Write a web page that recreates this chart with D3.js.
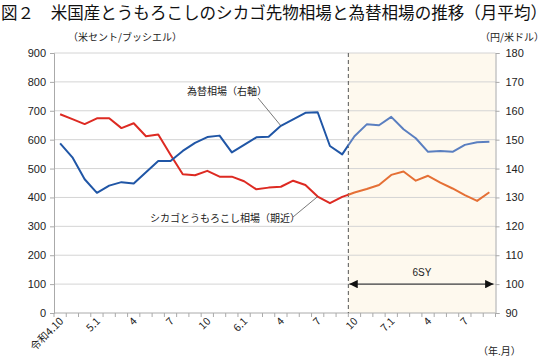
<!DOCTYPE html>
<html><head><meta charset="utf-8">
<script src="https://cdn.jsdelivr.net/npm/d3@7"></script>
<style>
html,body{margin:0;padding:0;background:#fff;}
svg{display:block;}
.jp{font-family:"Noto Sans CJK JP","Noto Sans",sans-serif;}
.num{font-family:"Liberation Sans",Arial,sans-serif;}
</style>
</head><body>
<svg id="c" width="550" height="360"></svg>
<script>
// ---- data ----
const monthCount = 36; // 令和4年10月 ～ 令和7年9月
const tickLabels = ["令和4.10","5.1","4","7","10","6.1","4","7","10","7.1","4","7"];
const tickLabelIdx = [0,3,6,9,12,15,18,21,24,27,30,33];
const leftTicks = [0,100,200,300,400,500,600,700,800,900];
const rightTicks = [90,100,110,120,130,140,150,160,170,180];
const corn = [688,671,654,674,674,640,657,612,618,548,480,477,492,472,472,456,428,434,437,458,443,403,380,402,417,429,443,478,490,458,475,451,431,408,388,418];
const yen = [148.7,143.9,136.3,131.6,134.1,135.3,134.8,138.7,142.6,142.6,146.1,148.9,150.9,151.4,145.6,148.2,150.8,151.0,154.8,157.0,159.3,159.5,147.8,144.9,151.2,155.3,155.0,157.9,153.6,150.5,145.8,146.1,145.8,148.2,149.1,149.3];
const splitIdx = 24; // 6SY start (令和6年10月)

// ---- layout ----
const L = 54, R = 495.5, T = 53, B = 313;
const svg = d3.select("#c");
const x = d3.scaleBand().domain(d3.range(monthCount)).range([L, R]).padding(0);
const cx = i => x(i) + x.bandwidth()/2;
const yL = d3.scaleLinear().domain([0,900]).range([B,T]);
const yR = d3.scaleLinear().domain([90,180]).range([B,T]);
const splitX = x(splitIdx);

// shaded region
svg.append("rect").attr("x", splitX).attr("y", T).attr("width", R - splitX).attr("height", B - T).attr("fill", "#fef9ee");

// gridlines
svg.append("g").selectAll("line").data(leftTicks.filter(d => d > 0)).join("line")
  .attr("x1", L).attr("x2", R).attr("y1", d => yL(d)).attr("y2", d => yL(d))
  .attr("stroke", "#d4d4d4").attr("stroke-width", 1);

// left axis
const gL = svg.append("g").attr("transform", `translate(${L},0)`)
  .call(d3.axisLeft(yL).tickValues(leftTicks).tickSize(4).tickPadding(4));
gL.selectAll("text").attr("class","num").attr("font-size", 11).attr("fill","#222");
gL.selectAll("line,path").attr("stroke","#aaa");

// right axis
const gR = svg.append("g").attr("transform", `translate(${R},0)`)
  .call(d3.axisRight(yR).tickValues(rightTicks).tickSize(4).tickPadding(6));
gR.selectAll("text").attr("class","num").attr("font-size", 11).attr("fill","#222");
gR.selectAll("line,path").attr("stroke","#aaa");

// bottom axis line & ticks
svg.append("line").attr("x1", L).attr("x2", R).attr("y1", B).attr("y2", B).attr("stroke","#aaa");
svg.append("g").selectAll("line").data(d3.range(monthCount + 1)).join("line")
  .attr("x1", i => i < monthCount ? x(i) : R).attr("x2", i => i < monthCount ? x(i) : R)
  .attr("y1", B).attr("y2", B + 4).attr("stroke","#aaa");

// x labels (rotated)
svg.append("g").selectAll("text").data(tickLabelIdx).join("text")
  .attr("class","jp").attr("font-size", 10.5).attr("fill","#222")
  .attr("text-anchor","end")
  .attr("transform", i => `translate(${cx(i)+4},${B + 9}) rotate(-45)`)
  .text((d,k) => tickLabels[k]);

// dashed split line
svg.append("line").attr("x1", splitX).attr("x2", splitX).attr("y1", T).attr("y2", B)
  .attr("stroke","#555").attr("stroke-dasharray","4,3").attr("stroke-width",1);

// clips
const defs = svg.append("defs");
defs.append("clipPath").attr("id","clipA").append("rect").attr("x", 0).attr("y", 0).attr("width", splitX).attr("height", 360);
defs.append("clipPath").attr("id","clipB").append("rect").attr("x", splitX).attr("y", 0).attr("width", 550 - splitX).attr("height", 360);

const lineL = d3.line().x((d,i) => cx(i)).y(d => yL(d));
const lineR = d3.line().x((d,i) => cx(i)).y(d => yR(d));

function drawLine(gen, data, c1, c2){
  svg.append("path").datum(data).attr("d", gen).attr("fill","none").attr("stroke", c1).attr("stroke-width", 2).attr("stroke-linejoin","round").attr("clip-path","url(#clipA)");
  svg.append("path").datum(data).attr("d", gen).attr("fill","none").attr("stroke", c2).attr("stroke-width", 2).attr("stroke-linejoin","round").attr("clip-path","url(#clipB)");
}
drawLine(lineL, corn, "#dd2a22", "#e57035");
drawLine(lineR, yen, "#2056a6", "#5a7fc0");

// arrow for 6SY
defs.append("marker").attr("id","arr").attr("viewBox","0 0 10 10").attr("refX",10).attr("refY",5)
  .attr("markerWidth",7).attr("markerHeight",7).attr("orient","auto-start-reverse")
  .append("path").attr("d","M0,0 L10,5 L0,10 Z").attr("fill","#111");
svg.append("line").attr("x1", splitX + 1).attr("x2", R - 2).attr("y1", yR(100)).attr("y2", yR(100))
  .attr("stroke","#444").attr("stroke-width",1.2)
  .attr("marker-start","url(#arr)").attr("marker-end","url(#arr)");
svg.append("text").attr("class","num").attr("x", (splitX + R)/2).attr("y", yR(100) - 8)
  .attr("text-anchor","middle").attr("font-size", 10).attr("fill","#222").text("6SY");

// annotations
svg.append("text").attr("class","jp").attr("x", 187).attr("y", 95).attr("font-size", 10).attr("fill","#222").text("為替相場（右軸）");
svg.append("line").attr("x1", 258).attr("y1", 98).attr("x2", cx(18)).attr("y2", yR(yen[18])).attr("stroke","#555").attr("stroke-width",0.8);
svg.append("text").attr("class","jp").attr("x", 150).attr("y", 222).attr("font-size", 10).attr("fill","#222").text("シカゴとうもろこし相場（期近）");
svg.append("line").attr("x1", 293).attr("y1", 217).attr("x2", cx(21)).attr("y2", yL(corn[21])).attr("stroke","#555").attr("stroke-width",0.8);

// titles
svg.append("text").attr("class","jp").attr("x", 1).attr("y", 19).attr("font-size", 16.5).attr("fill","#111")
  .attr("textLength", 546).attr("lengthAdjust", "spacingAndGlyphs")
  .text("図２　米国産とうもろこしのシカゴ先物相場と為替相場の推移（月平均）");
svg.append("text").attr("class","jp").attr("x", 68).attr("y", 41).attr("font-size", 10).attr("fill","#222").text("（米セント/ブッシエル）");
svg.append("text").attr("class","jp").attr("x", 480).attr("y", 41).attr("font-size", 10).attr("fill","#222").text("（円/米ドル）");
svg.append("text").attr("class","jp").attr("x", 478).attr("y", 355).attr("font-size", 10).attr("fill","#222").text("（年.月）");
</script>
</body></html>
